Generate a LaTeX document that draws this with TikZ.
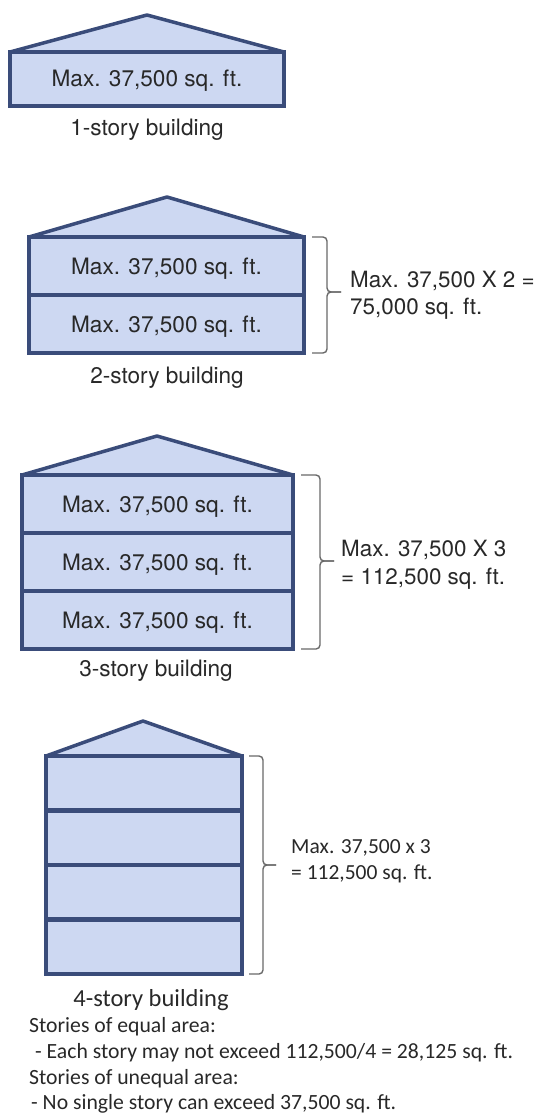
\documentclass[tikz,border=0pt]{standalone}
\usepackage{fontspec}
\setmainfont{TeX Gyre Heros}
\newfontfamily\carlito{Carlito}
\definecolor{bfill}{RGB}{205,216,242}
\definecolor{bline}{RGB}{58,76,122}
\definecolor{txt}{RGB}{40,40,40}
\definecolor{brk}{RGB}{105,105,105}
\begin{document}
\begin{tikzpicture}[x=1pt,y=-1pt,
  story/.style={draw=bline, fill=bfill, line width=4.5pt, inner sep=0pt, outer sep=0pt,
    anchor=north west, text=txt, font=\fontsize{22.6}{27}\selectfont,
    text height=16pt, text depth=0pt},
  roofline/.style={draw=bline, fill=bfill, line width=3.5pt, line join=round},
  bracketline/.style={draw=brk, line width=1.4pt, rounded corners=4pt},
  lbl/.style={text=txt, font=\fontsize{22.6}{27}\selectfont, inner sep=0pt, anchor=base},
  sidelbl/.style={text=txt, font=\fontsize{22.4}{27}\selectfont, inner sep=0pt, anchor=base west},
  cside/.style={text=txt, font=\carlito\fontsize{21.5}{26}\selectfont, inner sep=0pt, anchor=base west},
  note/.style={text=txt, font=\carlito\fontsize{21.7}{26}\selectfont, inner sep=0pt, anchor=base west},
]
\useasboundingbox (0,0) rectangle (537,1115);

% ---------- 1-story building ----------
\coordinate (r1a) at (10,52);
\coordinate (r1b) at (284,52);
\coordinate (r1top) at (147,15);
\draw[roofline] (r1a) -- (r1top) -- (r1b) -- cycle;
\node[story, minimum width=274pt, minimum height=54pt] (b1s1) at (r1a) {Max. 37,500 sq. ft.};
\node[lbl] (b1lbl) at (147,136) {1-story building};

% ---------- 2-story building ----------
\coordinate (r2a) at (29,237);
\coordinate (r2b) at (304,237);
\coordinate (r2top) at (167,197);
\draw[roofline] (r2a) -- (r2top) -- (r2b) -- cycle;
\node[story, minimum width=275pt, minimum height=58pt] (b2s1) at (29,237) {Max. 37,500 sq. ft.};
\node[story, minimum width=275pt, minimum height=58pt] (b2s2) at (29,295) {Max. 37,500 sq. ft.};
\node[lbl] (b2lbl) at (167,383) {2-story building};
\coordinate (k2a) at (312,237);
\coordinate (k2b) at (327,237);
\coordinate (k2m) at (327,292);
\coordinate (k2t) at (341,292);
\coordinate (k2c) at (327,353);
\coordinate (k2d) at (312,353);
\draw[bracketline] (k2a) -- (k2b) -- (k2m) -- (k2t);
\draw[bracketline] (k2d) -- (k2c) -- (k2m) -- (k2t);
\node[sidelbl] (b2t1) at (350,287) {Max. 37,500 X 2 =};
\node[sidelbl] (b2t2) at (350,314) {75,000 sq. ft.};

% ---------- 3-story building ----------
\coordinate (r3a) at (22,475);
\coordinate (r3b) at (293,475);
\coordinate (r3top) at (157,436);
\draw[roofline] (r3a) -- (r3top) -- (r3b) -- cycle;
\node[story, minimum width=271pt, minimum height=58pt] (b3s1) at (22,475) {Max. 37,500 sq. ft.};
\node[story, minimum width=271pt, minimum height=58pt] (b3s2) at (22,533) {Max. 37,500 sq. ft.};
\node[story, minimum width=271pt, minimum height=58pt] (b3s3) at (22,591) {Max. 37,500 sq. ft.};
\node[lbl] (b3lbl) at (156,676) {3-story building};
\coordinate (k3a) at (301,475);
\coordinate (k3b) at (320,475);
\coordinate (k3m) at (320,561);
\coordinate (k3t) at (334,561);
\coordinate (k3c) at (320,649);
\coordinate (k3d) at (301,649);
\draw[bracketline] (k3a) -- (k3b) -- (k3m) -- (k3t);
\draw[bracketline] (k3d) -- (k3c) -- (k3m) -- (k3t);
\node[sidelbl] (b3t1) at (341,556) {Max. 37,500 X 3};
\node[sidelbl] (b3t2) at (341,584) {= 112,500 sq. ft.};

% ---------- 4-story building ----------
\coordinate (r4a) at (46,756);
\coordinate (r4b) at (242,756);
\coordinate (r4top) at (143,721);
\draw[roofline] (r4a) -- (r4top) -- (r4b) -- cycle;
\node[story, minimum width=196pt, minimum height=54.5pt] (b4s1) at (46,756) {};
\node[story, minimum width=196pt, minimum height=54.5pt] (b4s2) at (46,810.5) {};
\node[story, minimum width=196pt, minimum height=54.5pt] (b4s3) at (46,865) {};
\node[story, minimum width=196pt, minimum height=54.5pt] (b4s4) at (46,919.5) {};
\coordinate (k4a) at (249,756);
\coordinate (k4b) at (263,756);
\coordinate (k4m) at (263,865);
\coordinate (k4t) at (276,865);
\coordinate (k4c) at (263,974);
\coordinate (k4d) at (249,974);
\draw[bracketline] (k4a) -- (k4b) -- (k4m) -- (k4t);
\draw[bracketline] (k4d) -- (k4c) -- (k4m) -- (k4t);
\node[cside] (b4t1) at (291,853) {Max. 37,500 x 3};
\node[cside] (b4t2) at (291,879) {= 112,500 sq. ft.};

\node[text=txt, font=\carlito\fontsize{24.5}{29}\selectfont, inner sep=0pt, anchor=base] (b4lbl) at (151,1006) {4-story building};
\node[note] (n1) at (29,1032) {Stories of equal area:};
\node[note] (n2) at (35,1058) {- Each story may not exceed 112,500/4 = 28,125 sq. ft.};
\node[note] (n3) at (29,1084) {Stories of unequal area:};
\node[note] (n4) at (31,1109) {- No single story can exceed 37,500 sq. ft.};
\end{tikzpicture}
\end{document}
